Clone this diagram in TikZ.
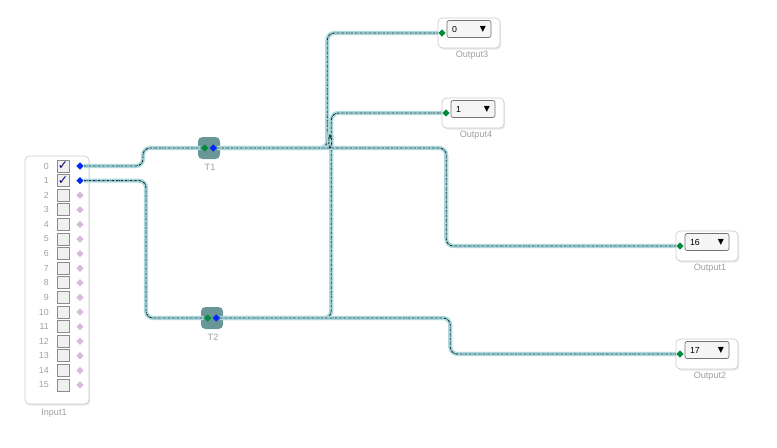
\documentclass[tikz,border=0pt]{standalone}
\usepackage{fontspec}
\setmainfont{Liberation Sans}
\newfontfamily\symfont{DejaVu Sans}
\usepackage{tikz}
\usetikzlibrary{positioning,backgrounds,shadows,shapes.geometric}
\definecolor{portblue}{RGB}{0,40,250}
\definecolor{portgreen}{RGB}{0,140,60}
\definecolor{portpink}{RGB}{215,185,220}
\definecolor{tcol}{RGB}{105,150,150}
\definecolor{wireglow}{RGB}{170,218,222}
\definecolor{wiredark}{RGB}{30,45,55}
\definecolor{lblgray}{RGB}{160,160,160}
\definecolor{boxline}{RGB}{205,205,205}
\tikzset{
  blockbox/.style={draw=boxline, fill=white, rounded corners=2.5pt,
    drop shadow={shadow xshift=0.7pt, shadow yshift=-0.9pt, opacity=0.18}},
  combo/.style={draw=black!55, fill=black!4, rounded corners=1.2pt,
    minimum width=0.88cm, minimum height=0.34cm, inner sep=0pt},
  chkbox/.style={draw=black!45, fill=black!6, minimum size=0.24cm, inner sep=0pt},
  tblock/.style={fill=tcol, rounded corners=2.5pt, minimum size=0.44cm, inner sep=0pt},
  port/.style={diamond, minimum size=0.15cm, inner sep=0pt},
  numlbl/.style={font=\fontsize{5}{6}\selectfont, text=lblgray, inner sep=0pt},
  namelbl/.style={font=\fontsize{5.2}{6}\selectfont, text=lblgray, inner sep=0pt},
  vallbl/.style={font=\fontsize{5}{6}\selectfont, inner sep=0pt},
  wire/.style={draw=wiredark, line width=0.55pt, rounded corners=4pt,
    dash pattern=on 1.3pt off 0.5pt on 0.3pt off 0.5pt,
    preaction={draw=wireglow, line width=2.3pt, solid}},
}

\begin{document}
\begin{tikzpicture}[x=0.02cm, y=-0.02cm]
  \useasboundingbox (0,0) rectangle (777,447);
  \begin{scope}[on background layer]
    \fill[white] (0,0) rectangle (777,447);
  \end{scope}
  % input panel
  \node[blockbox, minimum width=1.28cm, minimum height=4.96cm] (inpanel) at (57,280) {};
  \node[namelbl] at (54,413) {Input1};
  \foreach \i in {0,...,15} {
    \node[numlbl, anchor=east] at (49,{166+14.6*\i}) {\i};
    \node[chkbox] (cb\i) at (63,{166+14.6*\i}) {};
    \node[port, fill=portpink] (in\i) at (80,{166+14.6*\i}) {};
  }
  \foreach \i in {0,1} {
    \node[port, fill=portblue] at (in\i) {};
    \node[font=\symfont\fontsize{7}{7}\selectfont, text=blue!45!black, inner sep=0pt] at (cb\i) {✓};
  }
  % T blocks
  \node[tblock] (t1) at (209,148) {};
  \node[port, fill=portgreen] (t1-in) at ([xshift=-0.085cm]t1.center) {};
  \node[port, fill=portblue] (t1-out) at ([xshift=0.085cm]t1.center) {};
  \node[namelbl] at (210,167) {T1};
  \node[tblock] (t2) at (212,318) {};
  \node[port, fill=portgreen] (t2-in) at ([xshift=-0.085cm]t2.center) {};
  \node[port, fill=portblue] (t2-out) at ([xshift=0.085cm]t2.center) {};
  \node[namelbl] at (213,337) {T2};
  % outputs
  \foreach \nm/\lbl/\val/\px/\py in {o3/Output3/0/442/33, o4/Output4/1/446/113,
      o1/Output1/16/680/246, o2/Output2/17/680/354} {
    \node[blockbox, minimum width=1.24cm, minimum height=0.6cm] (\nm-box) at (\px+27,\py) {};
    \node[combo] (\nm-cb) at (\px+27,\py-4) {};
    \node[vallbl, anchor=west] at ([xshift=0.1cm]\nm-cb.west) {\val};
    \node[font=\symfont\fontsize{4.5}{5}\selectfont, anchor=east, inner sep=0pt] at ([xshift=-0.1cm]\nm-cb.east) {▼};
    \node[namelbl] at (\px+30,\py+22) {\lbl};
    \node[port, fill=portgreen] (\nm) at (\px,\py) {};
  }
  % connections
  \draw[wire] (in0) -- ++(63,0) |- (t1-in);
  \draw[wire] (in1) -- ++(66,0) |- (t2-in);
  \draw[wire] (t1-out) -- ++(114,0) |- (o3);
  \draw[wire] (t2-out) -- ++(115,0) |- (o4);
  \draw[wire] (t1-out) -- ++(111,0) .. controls +(3,0) and +(-1,-9) .. ++(6,-6)
    .. controls +(1,-9) and +(-3,0) .. ++(6,6) -- ++(110,0) |- (o1);
  \draw[wire] (t2-out) -- ++(234,0) |- (o2);
\end{tikzpicture}
\end{document}
